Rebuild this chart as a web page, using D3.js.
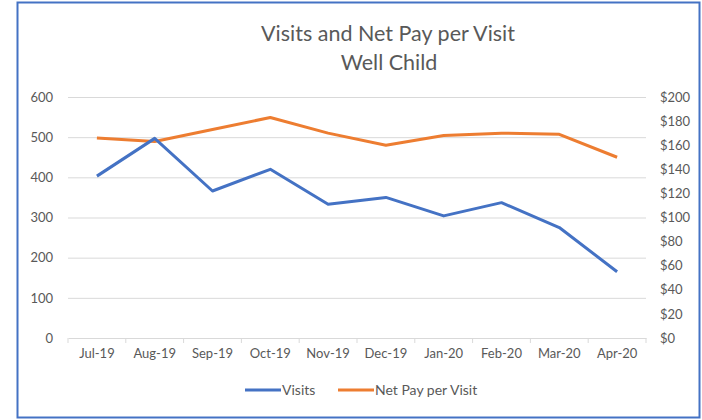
<!DOCTYPE html>
<html lang="en">
<head>
  <meta charset="UTF-8">
  <title>Visits and Net Pay per Visit</title>
  <style>
    body { margin: 0; background: #fff; }
    text { font-family: Lato, "Open Sans", sans-serif; fill: #595959; }
  </style>
</head>
<body>

<svg id="chart" width="702" height="420"></svg>

<script src="https://d3js.org/d3.v7.min.js"></script>
<script>
// datos
var months = ["Jul-19", "Aug-19", "Sep-19", "Oct-19", "Nov-19", "Dec-19", "Jan-20", "Feb-20", "Mar-20", "Apr-20"];
var visits = [403, 497, 366, 420, 333, 350, 304, 337, 275, 165];
var netPay = [166, 163, 173, 183, 170, 160, 168, 170, 169, 150];
var leftTicks = [0, 100, 200, 300, 400, 500, 600];
var rightTicks = [0, 20, 40, 60, 80, 100, 120, 140, 160, 180, 200];

var svg = d3.select("#chart"),
  plotL = 68, plotR = 646, plotT = 97, plotB = 338;

// marco azul
svg.append("rect")
  .attr("x", 17.5).attr("y", 2.5)
  .attr("width", 682).attr("height", 415)
  .attr("fill", "none")
  .attr("stroke", "#4472C4")
  .attr("stroke-width", 2);

var x = d3.scaleBand().domain(months).range([plotL, plotR]).padding(0);
var yL = d3.scaleLinear().domain([0, 600]).range([plotB, plotT]);
var yR = d3.scaleLinear().domain([0, 200]).range([plotB, plotT]);

// lineas de la cuadricula
svg.append("g")
  .attr("transform", "translate(" + plotL + ",0)")
  .call(d3.axisLeft(yL).tickValues(leftTicks.slice(1)).tickSize(-(plotR - plotL)).tickFormat(""))
  .call(g => g.select(".domain").remove())
  .call(g => g.selectAll("line").attr("stroke", "#d9d9d9"));

// etiquetas eje izquierdo
svg.append("g")
  .attr("transform", "translate(53,0)")
  .call(d3.axisLeft(yL).tickValues(leftTicks).tickSize(0).tickPadding(0))
  .call(g => g.select(".domain").remove())
  .call(g => g.selectAll("text").attr("font-size", 13).style("font-family", "Lato, sans-serif").attr("fill", "#595959"));

// etiquetas eje derecho
svg.append("g")
  .attr("transform", "translate(660,0)")
  .call(d3.axisRight(yR).tickValues(rightTicks).tickSize(0).tickPadding(0).tickFormat(d => "$" + d))
  .call(g => g.select(".domain").remove())
  .call(g => g.selectAll("text").attr("font-size", 13).style("font-family", "Lato, sans-serif").attr("fill", "#595959"));

// eje x
svg.append("g")
  .attr("transform", "translate(0," + plotB + ")")
  .call(d3.axisBottom(x).tickSize(0).tickPadding(11))
  .call(g => g.select(".domain").attr("stroke", "#d9d9d9"))
  .call(g => g.selectAll("text").attr("font-size", 13).style("font-family", "Lato, sans-serif").attr("fill", "#595959"));

// marcas entre categorias
svg.append("g").selectAll("line")
  .data(d3.range(months.length + 1))
  .join("line")
  .attr("x1", i => plotL + i * x.step()).attr("x2", i => plotL + i * x.step())
  .attr("y1", plotB).attr("y2", plotB + 5)
  .attr("stroke", "#d9d9d9");

var cx = d => x(d) + x.bandwidth() / 2;

svg.append("path")
  .datum(netPay)
  .attr("fill", "none")
  .attr("stroke", "#ED7D31")
  .attr("stroke-width", 3)
  .attr("stroke-linejoin", "round")
  .attr("d", d3.line().x((d, i) => cx(months[i])).y(d => yR(d)));

svg.append("path")
  .datum(visits)
  .attr("fill", "none")
  .attr("stroke", "#4472C4")
  .attr("stroke-width", 3)
  .attr("stroke-linejoin", "round")
  .attr("d", d3.line().x((d, i) => cx(months[i])).y(d => yL(d)));

// titulo
svg.append("text").attr("x", 388).attr("y", 41).attr("text-anchor", "middle")
  .attr("font-size", 21.5).text("Visits and Net Pay per Visit");
svg.append("text").attr("x", 389).attr("y", 70).attr("text-anchor", "middle")
  .attr("font-size", 21.5).text("Well Child");

// leyenda
var legend = [
  {name: "Visits", color: "#4472C4", x: 245},
  {name: "Net Pay per Visit", color: "#ED7D31", x: 338}
];
var lg = svg.append("g").selectAll("g").data(legend).join("g")
  .attr("transform", d => "translate(" + d.x + ",390)");
lg.append("line").attr("x1", 0).attr("x2", 36).attr("stroke", d => d.color).attr("stroke-width", 3);
lg.append("text").attr("x", 37).attr("y", 5).attr("font-size", 14).text(d => d.name);
</script>

</body>
</html>
